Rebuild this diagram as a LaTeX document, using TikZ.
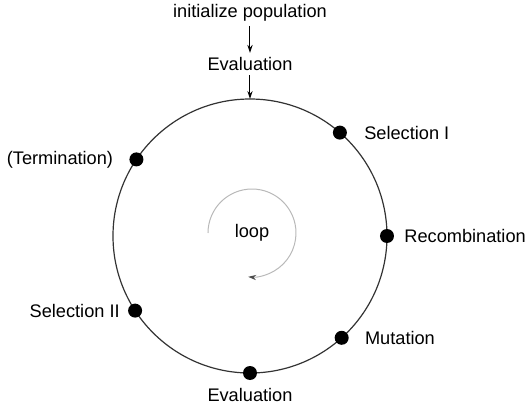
\documentclass[tikz,border=0pt]{standalone}
\usepackage{fontspec}
\setmainfont{Liberation Sans}
\usetikzlibrary{calc,arrows.meta}

\begin{document}
\begin{tikzpicture}[x=0.5pt,y=0.5pt,font=\fontsize{9.1}{11}\selectfont,
  dot/.style={circle,fill,inner sep=0,minimum size=7pt},
  lbl/.style={inner sep=2pt},
  tip/.style={-{Stealth[length=4pt,width=2.6pt]}}]
\useasboundingbox (0,0) rectangle (527,409);
\node [circle,draw=black!80,line width=0.6pt,inner sep=0,outer sep=0,minimum size=137pt] (ring) at (250,173) {};
\node [lbl] (init) at (250,396) {initialize population};
\node [lbl] (evaltop) at (250,345) {Evaluation};
\draw [tip,line width=0.5pt] (init) -- (evaltop);
\draw [tip,line width=0.5pt] (evaltop) -- (ring.north);
\node [dot] (seli) at (ring.49) {};
\node [lbl,anchor=west] (lseli) at ($(seli)+(20,0)$) {Selection I};
\node [dot] (recomb) at (ring.0) {};
\node [lbl,anchor=west] (lrecomb) at ($(recomb)+(13,0)$) {Recombination};
\node [dot] (mut) at (ring.-48) {};
\node [lbl,anchor=west] (lmut) at ($(mut)+(19,0)$) {Mutation};
\node [dot] (evalb) at (ring.-90) {};
\node [lbl] (levalb) at ($(evalb)+(0,-22)$) {Evaluation};
\node [dot] (selii) at (ring.213) {};
\node [lbl,anchor=east] (lselii) at ($(selii)+(-11,0)$) {Selection II};
\node [dot] (term) at (ring.146) {};
\node [lbl,anchor=east] (lterm) at ($(term)+(-19,0)$) {(Termination)};
\node [lbl] (loop) at (252,176) {loop};
\draw [gray!55,line width=0.5pt,-{Stealth[length=4pt,width=2.6pt,color=black!70]}] ($(loop.center)+(-44,0)$) arc [start angle=180,end angle=-95,radius=44];
\end{tikzpicture}
\end{document}
